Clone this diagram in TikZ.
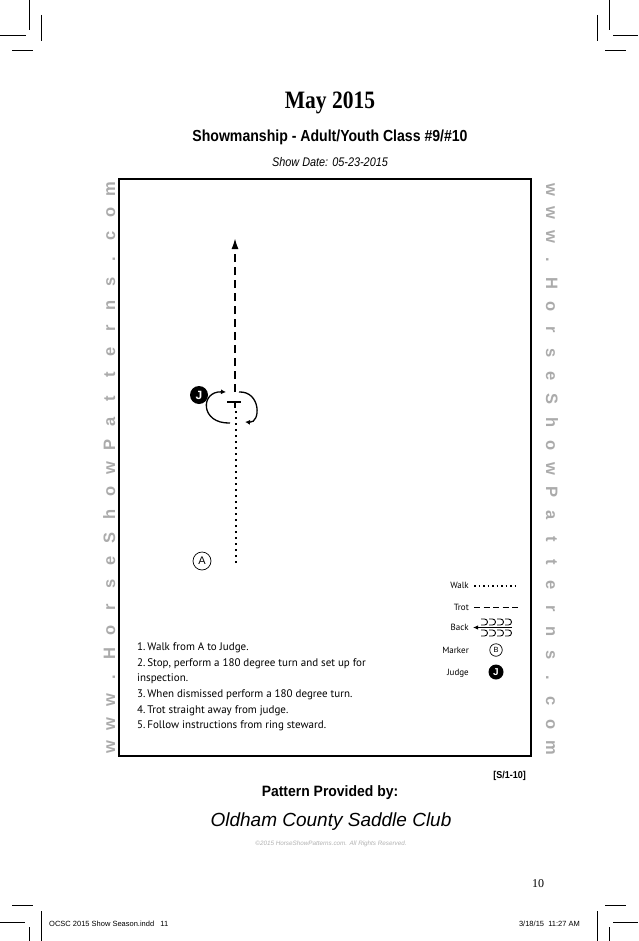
\documentclass[tikz,border=0pt]{standalone}
\usepackage{fontspec}
\setmainfont{Liberation Serif}
\setsansfont{Liberation Sans}
\newfontfamily\ptsans{PT Sans}
\usetikzlibrary{arrows.meta}
\definecolor{wmgray}{HTML}{ABABAB}
\tikzset{
  cropmark/.style={line width=0.8pt},
  wm/.style={inner sep=0pt, text=wmgray, font=\sffamily\bfseries\fontsize{16.5}{16.5}\selectfont},
  frame/.style={line width=2.7pt},
  walkline/.style={line width=2.2pt, dash pattern=on 2.2pt off 3.8pt},
  trotline/.style={line width=1.8pt, dash pattern=on 8pt off 5pt},
  turnarrow/.style={line width=1.3pt, -{Latex[length=5pt,width=5pt]}},
  marker/.style={circle, draw, line width=0.7pt, inner sep=0pt},
  judge/.style={circle, fill=black, text=white, inner sep=0pt},
  instr/.style={anchor=base west, inner sep=0pt, font=\ptsans\fontsize{11}{11}\selectfont},
  legtext/.style={anchor=base east, inner sep=0pt, font=\ptsans\fontsize{9}{9}\selectfont},
  legwalk/.style={line width=1.3pt, dash pattern=on 1.5pt off 3pt},
  legtrot/.style={line width=1.5pt, dash pattern=on 6pt off 3.5pt},
}
\begin{document}
\begin{tikzpicture}[x=1pt,y=-1pt]
\useasboundingbox (0,0) rectangle (638,941);
\fill[white] (0,0) rectangle (638,941);

% crop marks
\draw[cropmark] (29,0) -- (29,30);
\draw[cropmark] (0,35) -- (26,35);
\draw[cropmark] (41.5,15) -- (41.5,41);
\draw[cropmark] (12,50) -- (33,50);
\draw[cropmark] (609,0) -- (609,30);
\draw[cropmark] (613,35) -- (638,35);
\draw[cropmark] (597,15) -- (597,41);
\draw[cropmark] (605,50) -- (626,50);
\draw[cropmark] (12,905.5) -- (33,905.5);
\draw[cropmark] (0,922) -- (25,922);
\draw[cropmark] (29,927) -- (29,941);
\draw[cropmark] (41.5,911) -- (41.5,941);
\draw[cropmark] (605,905.5) -- (626,905.5);
\draw[cropmark] (613,922) -- (638,922);
\draw[cropmark] (609,927) -- (609,941);
\draw[cropmark] (597,911) -- (597,941);

% titles
\node[anchor=base, inner sep=0pt] (title) at (330,109)
  {\scalebox{0.86}[1]{\fontsize{25}{25}\selectfont\bfseries May 2015}};
\node[anchor=base, inner sep=0pt] (class) at (330,142)
  {\scalebox{0.88}[1]{\sffamily\bfseries\fontsize{16}{16}\selectfont Showmanship - Adult/Youth Class \#9/\#10}};
\node[anchor=base, inner sep=0pt] (date) at (330,166.7)
  {\scalebox{0.87}[1]{\sffamily\itshape\fontsize{12.5}{12.5}\selectfont Show Date: 05-23-2015}};

% frame
\draw[frame] (119,179) rectangle (531,756);

% watermarks
\foreach \c [count=\i from 0] in {w,w,w,.,H,o,r,s,e,S,h,o,w,P,a,t,t,e,r,n,s,.,c,o,m} {
  \node[wm, rotate=90, anchor=base] (wl\i) at (115,747-\i*23.25) {\c};
  \node[wm, rotate=-90, anchor=base] (wr\i) at (546,190+\i*23.25) {\c};
}

% pattern
\coordinate (start) at (236,563);
\coordinate (stopw) at (236,408);
\coordinate (stopt) at (235,392);
\coordinate (finish) at (235,238);
\node[marker, minimum size=18pt, font=\sffamily\fontsize{11}{11}\selectfont] (A) at (202,561) {A};
\node[judge, minimum size=18pt, font=\sffamily\bfseries\fontsize{12}{12}\selectfont] (J) at (199,395) {J};
\draw[walkline] (start) -- (stopw);
\draw[line width=1.6pt] (227,402) -- (241,402);
\draw[line width=1.6pt] (235,402) -- (235,408);
\draw[trotline, -{Latex[length=11pt,width=7pt]}] (stopt) -- (finish);
\draw[turnarrow] (230,423) .. controls (200,424) and (200,391) .. (226,392);
\draw[turnarrow] (239,392) .. controls (261,391) and (261,423) .. (245,422);

% legend
\node[legtext] (lwalk) at (469,588.3) {Walk};
\node[legtext] (ltrot) at (469,610) {Trot};
\node[legtext] (lback) at (469,630.7) {Back};
\node[legtext] (lmark) at (469,653) {Marker};
\node[legtext] (ljudge) at (469,675) {Judge};
\coordinate (w1) at (474,586); \coordinate (w2) at (519,586);
\coordinate (t1) at (474,607.5); \coordinate (t2) at (520,607.5);
\coordinate (b1) at (512,627.5); \coordinate (b2) at (473,627.5);
\draw[legwalk] (w1) -- (w2);
\draw[legtrot] (t1) -- (t2);
\draw[line width=1pt, -{Latex[length=5pt,width=4.5pt]}] (b1) -- (b2);
\foreach \k in {0,1,2,3} {
  \draw[line width=0.9pt] (481+8*\k,619) -- (484.5+8*\k,619) arc[start angle=-90,end angle=90,radius=3] -- (481+8*\k,625);
  \draw[line width=0.9pt] (481+8*\k,630) -- (484.5+8*\k,630) arc[start angle=-90,end angle=90,radius=3] -- (481+8*\k,636);
}
\node[marker, minimum size=12.5pt, font=\sffamily\fontsize{7.5}{7.5}\selectfont] (B) at (496,650) {B};
\node[judge, minimum size=15pt, font=\sffamily\bfseries\fontsize{10}{10}\selectfont] (J2) at (496,672) {J};

% instructions
\node[instr] (i1) at (137,650.7) {1.\,Walk from A to Judge.};
\node[instr] (i2) at (137,666.3) {2.\,Stop, perform a 180 degree turn and set up for};
\node[instr] (i3) at (137,681.9) {inspection.};
\node[instr] (i4) at (137,697.5) {3.\,When dismissed perform a 180 degree turn.};
\node[instr] (i5) at (137,713.1) {4.\,Trot straight away from judge.};
\node[instr] (i6) at (137,728.7) {5.\,Follow instructions from ring steward.};

% bottom texts
\node[anchor=base east, inner sep=0pt] (code) at (526,778)
  {\scalebox{0.9}[1]{\sffamily\bfseries\fontsize{10}{10}\selectfont [S/1-10]}};
\node[anchor=base, inner sep=0pt] (provided) at (330,796)
  {\scalebox{0.93}[1]{\sffamily\bfseries\fontsize{15}{15}\selectfont Pattern Provided by:}};
\node[anchor=base, inner sep=0pt] (club) at (331,826.7)
  {\sffamily\itshape\fontsize{19}{19}\selectfont Oldham County Saddle Club};
\node[anchor=base, inner sep=0pt, text=gray!60] (copy) at (331,845)
  {\sffamily\itshape\fontsize{6.3}{6.3}\selectfont ©2015 HorseShowPatterns.com. All Rights Reserved.};
\node[anchor=base, inner sep=0pt] (page) at (538,887)
  {\fontsize{12}{12}\selectfont 10};
\node[anchor=base west, inner sep=0pt] (slugl) at (49,926)
  {\sffamily\fontsize{7.5}{7.5}\selectfont OCSC 2015 Show Season.indd\ \ \ 11};
\node[anchor=base east, inner sep=0pt] (slugr) at (580,926)
  {\sffamily\fontsize{7.5}{7.5}\selectfont 3/18/15\ \ 11:27 AM};
\end{tikzpicture}
\end{document}
